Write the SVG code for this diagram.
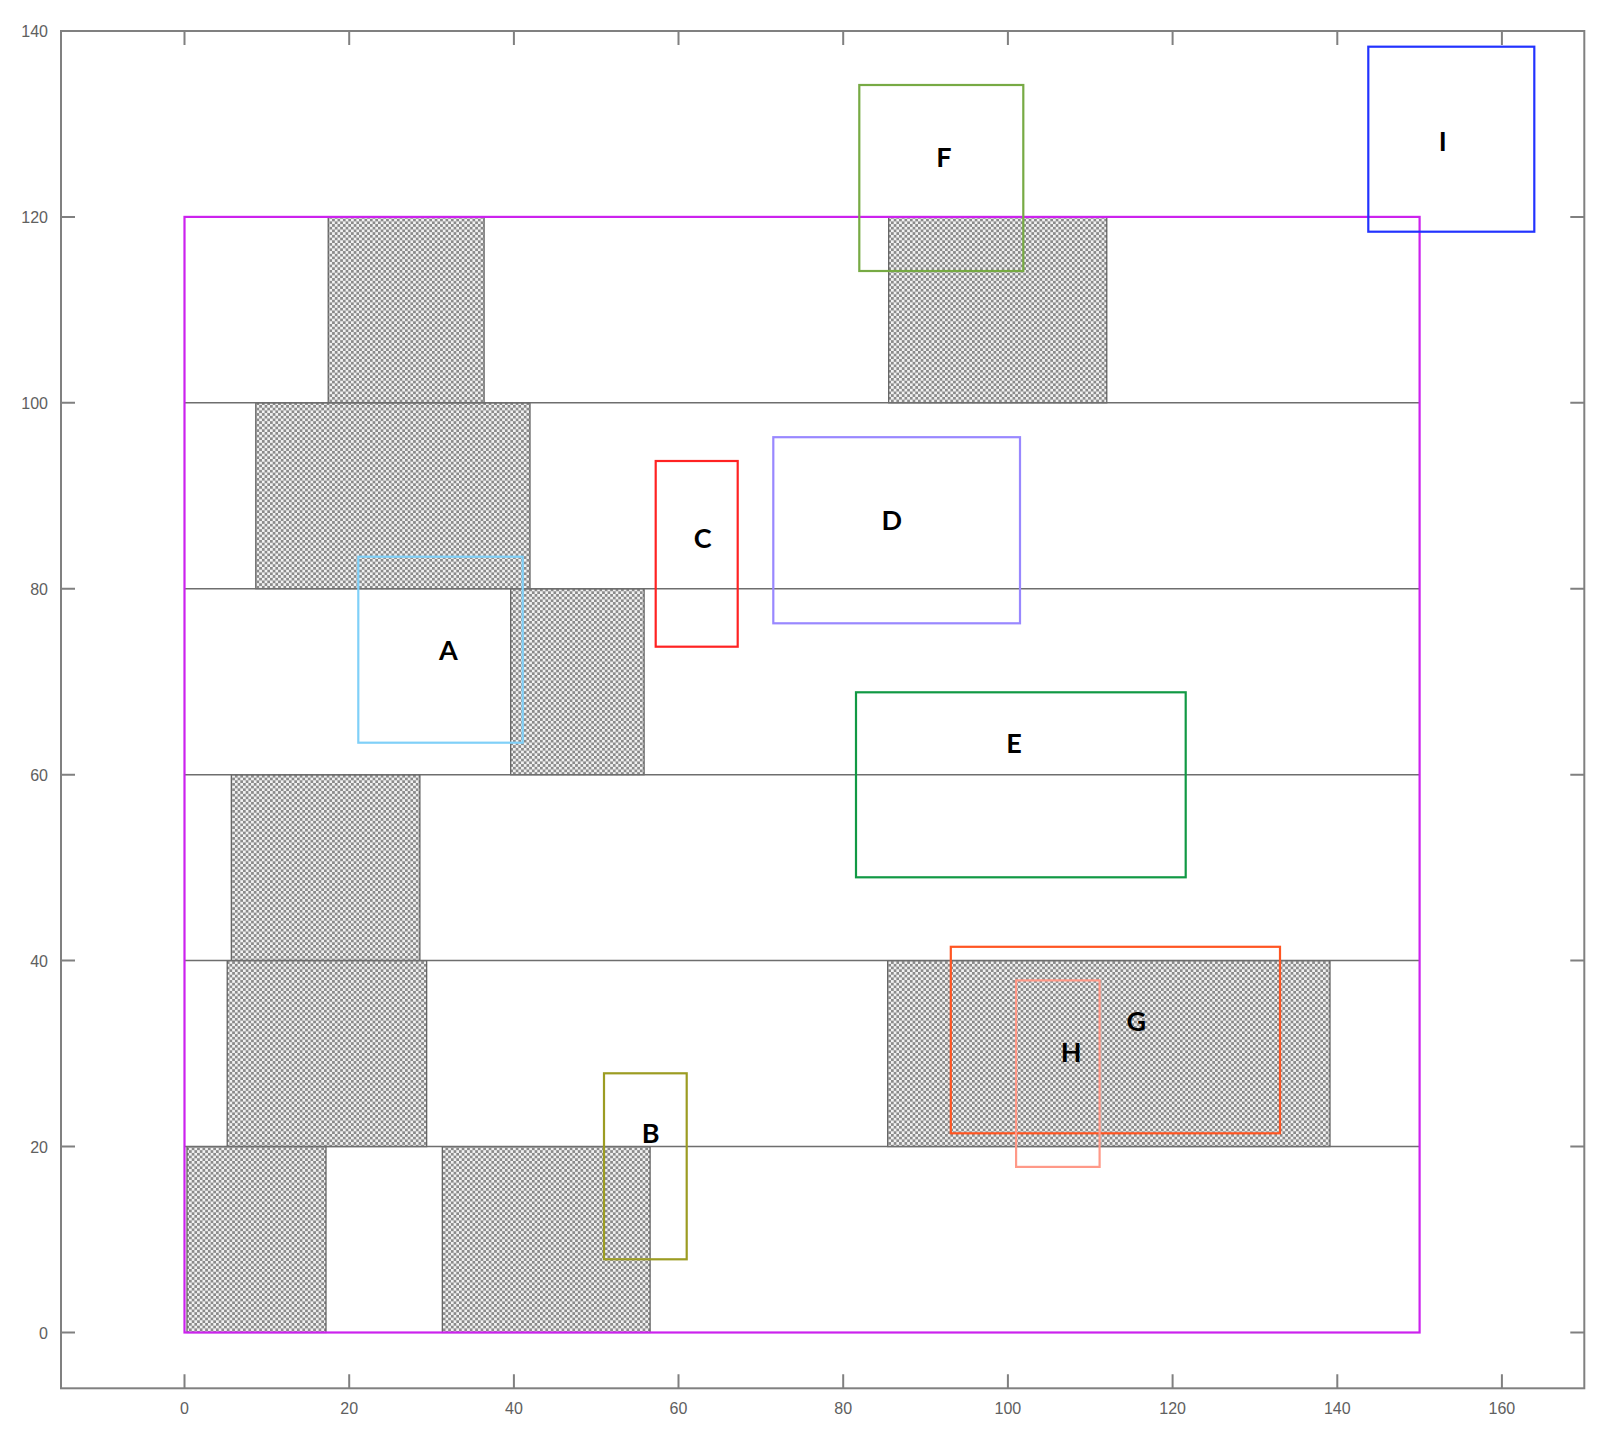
<svg xmlns="http://www.w3.org/2000/svg" width="1598" height="1431" viewBox="0 0 1598 1431">
<style>
.axis{fill:none;stroke:#808080;stroke-width:2}
.tick{stroke:#808080;stroke-width:2}
.tl{font-family:"Liberation Sans",Arial,sans-serif;font-size:16px;fill:#606060}
.row{stroke:#6e6e6e;stroke-width:1.5}
.hatch{fill:url(#chk);stroke:#5a5a5a;stroke-width:1.2}
.box{fill:none;stroke-width:2.2}
.lbl{font-family:Lato,"Open Sans",sans-serif;font-weight:bold;font-size:27px;fill:#000;text-anchor:middle}
</style>
<defs>
<pattern id="chk" patternUnits="userSpaceOnUse" width="5.4" height="5.4">
<rect width="5.4" height="5.4" fill="#f2f2f2"/>
<rect width="2.7" height="2.7" fill="#8a8a8a"/>
<rect x="2.7" y="2.7" width="2.7" height="2.7" fill="#8a8a8a"/>
</pattern>
</defs>
<rect width="1598" height="1431" fill="#fff"/>
<g id="axes">
<rect class="axis" x="61" y="31" width="1523.3" height="1357.3"/>
<g id="xticks">
<path class="tick" d="M184.5 1388.3V1374.3M184.5 31V45M349.2 1388.3V1374.3M349.2 31V45M513.9 1388.3V1374.3M513.9 31V45M678.5 1388.3V1374.3M678.5 31V45M843.2 1388.3V1374.3M843.2 31V45M1007.9 1388.3V1374.3M1007.9 31V45M1172.6 1388.3V1374.3M1172.6 31V45M1337.3 1388.3V1374.3M1337.3 31V45M1501.9 1388.3V1374.3M1501.9 31V45"/>
</g>
<g id="yticks">
<path class="tick" d="M61 1332.5H75M1584.3 1332.5H1570.3M61 1146.6H75M1584.3 1146.6H1570.3M61 960.6H75M1584.3 960.6H1570.3M61 774.7H75M1584.3 774.7H1570.3M61 588.7H75M1584.3 588.7H1570.3M61 402.8H75M1584.3 402.8H1570.3M61 216.9H75M1584.3 216.9H1570.3"/>
</g>
<g id="xlabels" class="tl" text-anchor="middle">
<text x="184.5" y="1414">0</text>
<text x="349.2" y="1414">20</text>
<text x="513.9" y="1414">40</text>
<text x="678.5" y="1414">60</text>
<text x="843.2" y="1414">80</text>
<text x="1007.9" y="1414">100</text>
<text x="1172.6" y="1414">120</text>
<text x="1337.3" y="1414">140</text>
<text x="1501.9" y="1414">160</text>
</g>
<g id="ylabels" class="tl" text-anchor="end">
<text x="48" y="1338.5">0</text>
<text x="48" y="1152.6">20</text>
<text x="48" y="966.6">40</text>
<text x="48" y="780.7">60</text>
<text x="48" y="594.7">80</text>
<text x="48" y="408.8">100</text>
<text x="48" y="222.9">120</text>
<text x="48" y="37">140</text>
</g>
</g>
<g id="blocks">
<rect class="hatch" x="328.2" y="216.9" width="155.9" height="185.9"/>
<rect class="hatch" x="888.7" y="216.9" width="218.1" height="185.9"/>
<rect class="hatch" x="255.8" y="402.8" width="274.2" height="185.9"/>
<rect class="hatch" x="510.7" y="588.7" width="133.4" height="186"/>
<rect class="hatch" x="231.3" y="774.7" width="188.6" height="185.9"/>
<rect class="hatch" x="227.2" y="960.6" width="199.5" height="186"/>
<rect class="hatch" x="887.7" y="960.6" width="442.3" height="186"/>
<rect class="hatch" x="187" y="1146.6" width="139" height="185.9"/>
<rect class="hatch" x="442.3" y="1146.6" width="207.8" height="185.9"/>
</g>
<g id="rows">
<path class="row" d="M184.5 1146.6H1419.6M184.5 960.6H1419.6M184.5 774.7H1419.6M184.5 588.7H1419.6M184.5 402.8H1419.6"/>
</g>
<g id="container">
<rect class="box" x="184.5" y="216.9" width="1235.1" height="1115.6" stroke="#cc22ee"/>
</g>
<g id="node-A">
<rect class="box" x="358.3" y="556.7" width="164.4" height="186" stroke="#80d0f8"/>
<text class="lbl" x="448.3" y="660">A</text>
</g>
<g id="node-B">
<rect class="box" x="604" y="1073.3" width="82.7" height="186" stroke="#9c9c22"/>
<text class="lbl" x="650.7" y="1142.5">B</text>
</g>
<g id="node-C">
<rect class="box" x="655.7" y="461" width="82" height="185.7" stroke="#ff2222"/>
<text class="lbl" x="702.7" y="548">C</text>
</g>
<g id="node-D">
<rect class="box" x="773.3" y="437.2" width="246.7" height="186.1" stroke="#9988ff"/>
<text class="lbl" x="891.7" y="530">D</text>
</g>
<g id="node-E">
<rect class="box" x="856" y="692.3" width="329.7" height="185" stroke="#119944"/>
<text class="lbl" x="1014" y="752.5">E</text>
</g>
<g id="node-F">
<rect class="box" x="859.3" y="85" width="164" height="186" stroke="#77aa44"/>
<text class="lbl" x="944" y="167">F</text>
</g>
<g id="node-G">
<rect class="box" x="950.8" y="946.8" width="329.2" height="186.5" stroke="#ff5522"/>
<text class="lbl" x="1136.3" y="1031">G</text>
</g>
<g id="node-H">
<rect class="box" x="1016.1" y="980.4" width="83.5" height="186.5" stroke="#ff9988"/>
<text class="lbl" x="1071.1" y="1061.5">H</text>
</g>
<g id="node-I">
<rect class="box" x="1368.3" y="46.7" width="166" height="185" stroke="#2233ff"/>
<text class="lbl" x="1442.7" y="150.5">I</text>
</g>
</svg>
